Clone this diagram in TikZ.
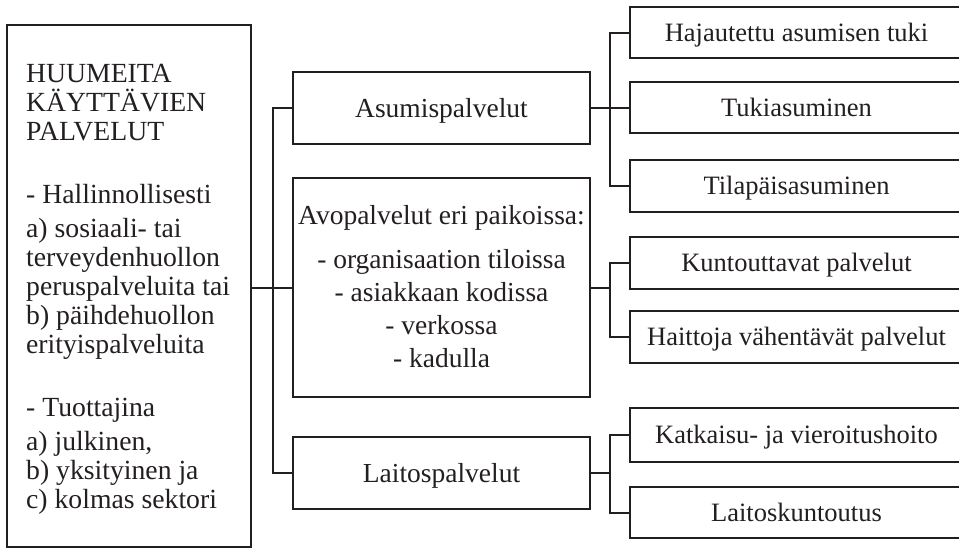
\documentclass[tikz,border=0pt]{standalone}
\usepackage{fontspec}
\setmainfont{Liberation Serif}
\definecolor{ink}{RGB}{35,31,32}
\begin{document}
\begin{tikzpicture}[x=1pt,y=-1pt,
  box/.style={draw=ink, line width=2.2pt, inner sep=0pt, outer sep=0pt, text=ink},
  mid/.style={box, minimum width=297pt, minimum height=72pt, font=\fontsize{27.5}{33}\selectfont, text height=18.3pt, text depth=0pt},
  leaf/.style={box, minimum width=345pt, font=\fontsize{26.5}{30}\selectfont, text height=17.6pt, text depth=0pt,
               execute at begin node={\hspace*{-12pt}}},
  link/.style={draw=ink, line width=2pt}]
\useasboundingbox (0,0) rectangle (959,549);
% main box
\node[box, minimum width=244pt, minimum height=522pt] (main) at (129,286) {};
\node[anchor=north west, inner sep=0pt, align=left, text=ink,
      font=\fontsize{27.7}{29}\selectfont] (maintext) at (26,63.7)
  {HUUMEITA\\KÄYTTÄVIEN\\PALVELUT\\[34pt]- Hallinnollisesti\\[5pt]a) sosiaali- tai\\terveydenhuollon\\peruspalveluita tai\\b) päihdehuollon\\erityispalveluita\\[34pt]- Tuottajina\\[5pt]a) julkinen,\\b) yksityinen ja\\c) kolmas sektori};
% middle column
\node[mid] (asum) at (441.5,108) {Asumispalvelut};
\node[box, minimum width=297pt, minimum height=219pt] (avo) at (441.5,287.5) {};
\node[anchor=north, inner sep=0pt, align=center, text=ink,
      font=\fontsize{27.5}{33}\selectfont] (avotext) at (441.5,205.2)
  {Avopalvelut eri paikoissa:\\[11pt]- organisaation tiloissa\\- asiakkaan kodissa\\- verkossa\\- kadulla};
\node[mid] (lait) at (441.5,473) {Laitospalvelut};
% right column (right sides run past the page edge)
\node[leaf, minimum height=51pt] (haj) at (802.5,32.5) {Hajautettu asumisen tuki};
\node[leaf, minimum height=51pt] (tuk) at (802.5,107.5) {Tukiasuminen};
\node[leaf, minimum height=52pt] (til) at (802.5,186) {Tilapäisasuminen};
\node[leaf, minimum height=52pt] (kun) at (802.5,263) {Kuntouttavat palvelut};
\node[leaf, minimum height=52pt] (hai) at (802.5,337) {Haittoja vähentävät palvelut};
\node[leaf, minimum height=54pt] (kat) at (802.5,435) {Katkaisu- ja vieroitushoito};
\node[leaf, minimum height=51pt] (lak) at (802.5,512.5) {Laitoskuntoutus};
% connectors
\draw[link] (main.east |- avo.west) -- (avo.west);
\draw[link] (asum.west) -- ++(-20,0) |- (lait.west);
\draw[link] (asum.east) -- ++(20,0);
\draw[link] (haj.west) -- ++(-20,0) |- (til.west);
\draw[link] (tuk.west) -- ++(-20,0);
\draw[link] (avo.east) -- ++(20,0);
\draw[link] (kun.west) -- ++(-20,0) |- (hai.west);
\draw[link] (lait.east) -- ++(20,0);
\draw[link] (kat.west) -- ++(-20,0) |- (lak.west);
\end{tikzpicture}
\end{document}
